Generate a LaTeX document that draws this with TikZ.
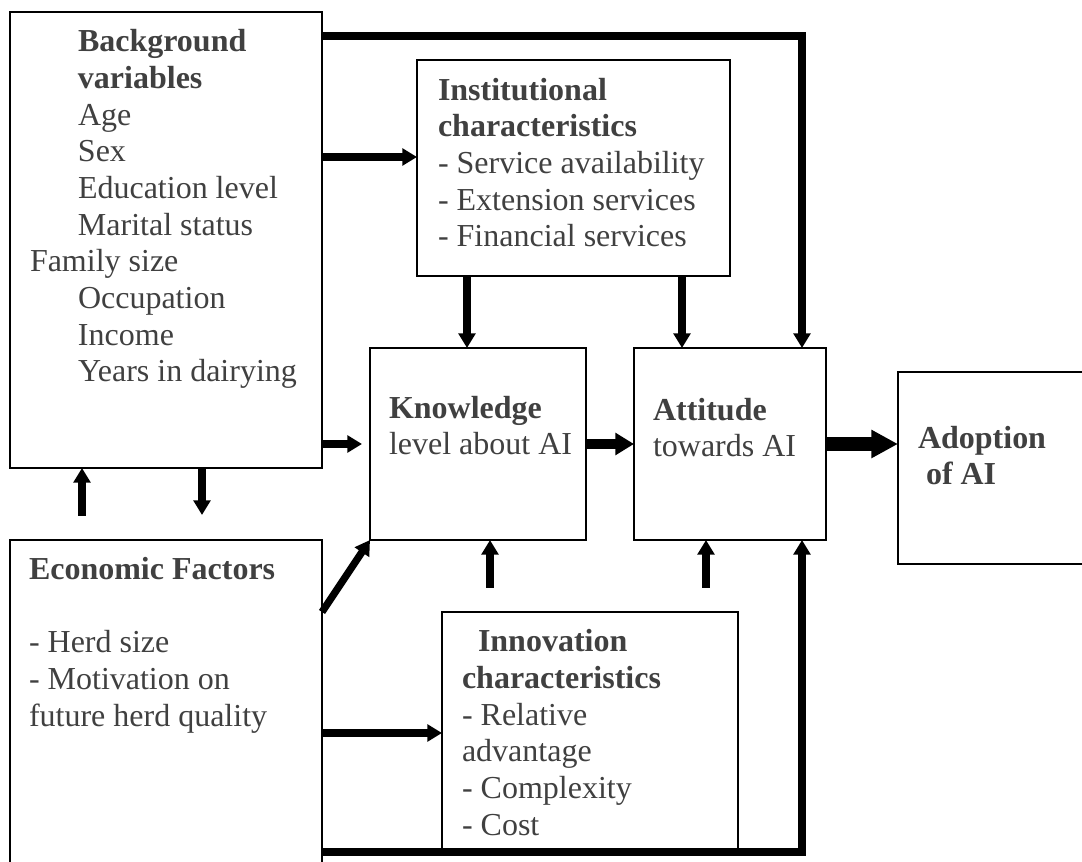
\documentclass[tikz,border=0pt]{standalone}
\usepackage{fontspec}
\setmainfont{Liberation Serif}
\usetikzlibrary{arrows.meta}
\definecolor{txtgray}{HTML}{404040}
\newcommand{\ind}{\hspace*{36pt}}
\begin{document}
\begin{tikzpicture}[x=0.75pt,y=-0.75pt,
  box/.style={draw, line width=1.5pt, rectangle, inner sep=0pt, outer sep=0pt, anchor=north west},
  % text blocks are placed by the baseline of their last line
  txt/.style={anchor=base west, align=left, inner sep=0pt, outer sep=0pt, text=txtgray,
              font=\fontsize{24}{27.5}\selectfont},
  flow/.style={line width=5.5pt, -{Triangle[width=12.5pt,length=11pt]}},
  bigflow/.style={line width=8pt, -{Triangle[width=16pt,length=14pt]}},
  hugeflow/.style={line width=10.5pt, -{Triangle[width=20pt,length=20pt]}},
  loopline/.style={line width=6pt, line join=miter, -{Triangle[width=12.5pt,length=11pt]}}]
\useasboundingbox (0,0) rectangle (1082,862);
\clip (0,0) rectangle (1082,862);

% boxes
\node[box, minimum width=234pt, minimum height=342pt] (bg) at (10,12) {};
\node[box, minimum width=234.75pt, minimum height=162pt] (inst) at (417,60) {};
\node[box, minimum width=162pt, minimum height=144pt] (know) at (370,348) {};
\node[box, minimum width=144pt, minimum height=144pt] (att) at (634,348) {};
\node[box, minimum width=150pt, minimum height=144pt] (adopt) at (898,372) {};
\node[box, minimum width=234pt, minimum height=255pt] (econ) at (10,540) {};
\node[box, minimum width=222pt, minimum height=178.5pt] (innov) at (442,612) {};

% box texts
\node[txt] (bgtext) at (30,382) {\ind\textbf{Background}\\ \ind\textbf{variables}\\ \ind Age\\ \ind Sex\\
  \ind Education level\\ \ind Marital status\\ Family size\\ \ind Occupation\\ \ind Income\\ \ind Years in dairying};
\node[txt] (insttext) at (438,247) {\textbf{Institutional}\\ \textbf{characteristics}\\ - Service availability\\
  - Extension services\\ - Financial services};
\node[txt] (knowtext) at (389,455) {\textbf{Knowledge}\\ level about AI};
\node[txt] (atttext) at (653,457) {\textbf{Attitude}\\ towards AI};
\node[txt] (adopttext) at (918,485) {\textbf{Adoption}\\ \hspace*{6pt}\textbf{of AI}};
\node[txt] (econtext) at (29,726) {\textbf{Economic Factors}\\[27.5pt] - Herd size\\ - Motivation on\\ future herd quality};
\node[txt] (innovtext) at (462,835) {\hspace*{12pt}\textbf{Innovation}\\ \textbf{characteristics}\\ - Relative\\ advantage\\
  - Complexity\\ - Cost};

% helper levels and free ends
\coordinate (rowA) at (0,36);
\coordinate (rowB) at (0,157);
\coordinate (rowC) at (0,444);
\coordinate (rowD) at (0,612);
\coordinate (rowE) at (0,733);
\coordinate (rowF) at (0,852);
\coordinate (colA) at (467,0);
\coordinate (colB) at (682,0);
\coordinate (colC) at (802,0);
\coordinate (up1) at (82,516);
\coordinate (dn1) at (202,515);
\coordinate (up2) at (490,588);
\coordinate (up3) at (706,588);

% connectors
\draw[loopline] (bg.east |- rowA) -- (colC |- rowA) -- (colC |- att.north);
\draw[flow] (bg.east |- rowB) -- (inst.west |- rowB);
\draw[flow, shorten >=6pt] (bg.east |- rowC) -- (know.west |- rowC);
\draw[bigflow] (know.east |- rowC) -- (att.west |- rowC);
\draw[hugeflow] (att.east |- rowC) -- (adopt.west |- rowC);
\draw[flow] (inst.south -| colA) -- (know.north -| colA);
\draw[flow] (inst.south -| colB) -- (att.north -| colB);
\draw[flow] (up1) -- (up1 |- bg.south);
\draw[flow] (dn1 |- bg.south) -- (dn1);
\draw[flow] (econ.east |- rowD) -- (know.south west);
\draw[flow] (econ.east |- rowE) -- (innov.west |- rowE);
\draw[flow] (up2) -- (up2 |- know.south);
\draw[flow] (up3) -- (up3 |- att.south);
\draw[loopline] (econ.east |- rowF) -- (colC |- rowF) -- (colC |- att.south);
\end{tikzpicture}
\end{document}
